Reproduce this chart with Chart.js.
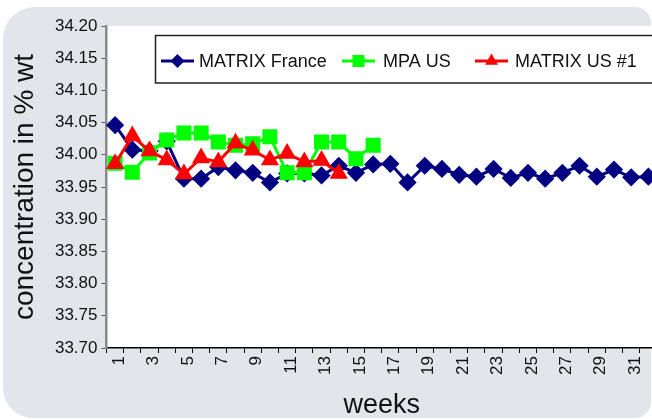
<!DOCTYPE html>
<html>
<head>
<meta charset="utf-8">
<script src="https://cdn.jsdelivr.net/npm/chart.js@4/dist/chart.umd.min.js"></script>
<style>
  html, body { margin: 0; padding: 0; width: 652px; height: 419px; overflow: hidden; background: #ffffff; }
  #panel { position: absolute; left: 3px; top: 7px; width: 648px; height: 411px; background: #e2e6ea; border-radius: 32px 16px 16px 30px; }
  #wrap { position: absolute; left: 0; top: 0; width: 680px; height: 419px; }
</style>
</head>
<body>
<div id="panel"></div>
<div id="wrap"><canvas id="c" width="680" height="419"></canvas></div>
<script>
// ---- data ----
const weeks = ['1','2','3','4','5','6','7','8','9','10','11','12','13','14','15','16',
               '17','18','19','20','21','22','23','24','25','26','27','28','29','30','31','32'];
const matrixFrance = [34.046, 34.008, 34.006, 34.021, 33.963, 33.963, 33.981, 33.976, 33.972, 33.957,
                      33.971, 33.971, 33.968, 33.983, 33.972, 33.985, 33.986, 33.957, 33.983, 33.978,
                      33.969, 33.966, 33.978, 33.964, 33.972, 33.963, 33.972, 33.983, 33.966, 33.977,
                      33.965, 33.966];
const mpaUS = [33.987, 33.973, 34.003, 34.023, 34.034, 34.034, 34.020, 34.015, 34.017, 34.028,
               33.972, 33.972, 34.020, 34.020, 33.994, 34.015];
const matrixUS1 = [33.986, 34.029, 34.006, 33.992, 33.970, 33.995, 33.989, 34.018, 34.007, 33.992,
                   34.002, 33.989, 33.991, 33.971];
const seriesNames = ['MATRIX France', 'MPA US', 'MATRIX US #1'];
const yMin = 33.70, yMax = 34.20, yStep = 0.05;
const xTitle = 'weeks';
const yTitle = 'concentration in % wt';

const FONT = "'Liberation Sans', Arial, Helvetica, sans-serif";

const plotBg = {
  id: 'plotBg',
  beforeDraw(chart) {
    const { ctx, chartArea: a } = chart;
    ctx.save();
    ctx.fillStyle = '#ffffff';
    ctx.fillRect(a.left, a.top, a.right - a.left, a.bottom - a.top);
    ctx.restore();
  }
};

function drawMarker(ctx, style, x, y, color) {
  ctx.save();
  ctx.fillStyle = color;
  ctx.beginPath();
  if (style === 'rectRot') {
    const r = 7;
    ctx.moveTo(x, y - r); ctx.lineTo(x + r, y); ctx.lineTo(x, y + r); ctx.lineTo(x - r, y);
  } else if (style === 'rect') {
    const s = 6;
    ctx.rect(x - s, y - s, 2 * s, 2 * s);
  } else {
    const r = 7.5;
    ctx.moveTo(x, y - r);
    ctx.lineTo(x + r * Math.sin(2 * Math.PI / 3), y - r * Math.cos(2 * Math.PI / 3));
    ctx.lineTo(x + r * Math.sin(4 * Math.PI / 3), y - r * Math.cos(4 * Math.PI / 3));
  }
  ctx.closePath();
  ctx.fill();
  ctx.restore();
}

const boxLegend = {
  id: 'boxLegend',
  afterDraw(chart) {
    const ctx = chart.ctx;
    ctx.save();
    ctx.fillStyle = '#ffffff';
    ctx.fillRect(155, 35, 560, 48);
    ctx.strokeStyle = '#222222';
    ctx.lineWidth = 1.5;
    ctx.strokeRect(155.5, 35.5, 560, 47.5);
    const items = [
      { ds: 0, x0: 161, x1: 194, tx: 199 },
      { ds: 1, x0: 342, x1: 375, tx: 383 },
      { ds: 2, x0: 475, x1: 508, tx: 515 }
    ];
    const y = 61;
    ctx.font = '18px ' + FONT;
    ctx.textBaseline = 'middle';
    ctx.textAlign = 'left';
    items.forEach(it => {
      const d = chart.data.datasets[it.ds];
      ctx.strokeStyle = d.borderColor;
      ctx.lineWidth = 3;
      ctx.beginPath(); ctx.moveTo(it.x0, y); ctx.lineTo(it.x1, y); ctx.stroke();
      drawMarker(ctx, d.pointStyle, (it.x0 + it.x1) / 2, y, d.pointBackgroundColor);
      ctx.fillStyle = '#111111';
      ctx.fillText(d.label, it.tx, y + 1);
    });
    ctx.restore();
  }
};

new Chart(document.getElementById('c'), {
  type: 'line',
  data: {
    labels: weeks,
    datasets: [
      { label: seriesNames[0], data: matrixFrance, borderColor: '#000080', pointBackgroundColor: '#000080',
        pointBorderColor: '#000080', pointStyle: 'rectRot', pointRadius: 7, borderWidth: 3, order: 3 },
      { label: seriesNames[1], data: mpaUS, borderColor: '#00ff00', pointBackgroundColor: '#00ff00',
        pointBorderColor: '#00ff00', pointStyle: 'rect', pointRadius: 8.5, borderWidth: 3, order: 2 },
      { label: seriesNames[2], data: matrixUS1, borderColor: '#ff0000', pointBackgroundColor: '#ff0000',
        pointBorderColor: '#ff0000', pointStyle: 'triangle', pointRadius: 7.5, borderWidth: 3, order: 1 }
    ]
  },
  options: {
    responsive: false,
    animation: false,
    devicePixelRatio: 1,
    layout: { padding: { left: 0, right: 23, top: 26, bottom: 0 } },
    elements: { line: { tension: 0 }, point: { borderWidth: 1, hoverRadius: 6 } },
    plugins: { legend: { display: false }, tooltip: { enabled: false } },
    scales: {
      x: {
        type: 'category',
        offset: true,
        grid: { offset: true, drawOnChartArea: false, drawTicks: true, tickLength: 5, color: '#000000', lineWidth: 1 },
        border: { display: true, color: '#000000', width: 1.5 },
        ticks: {
          autoSkip: false, minRotation: 90, maxRotation: 90, padding: 3, labelOffset: 4,
          color: '#111111', font: { family: FONT, size: 17 },
          callback: function (v, i) { return i % 2 === 0 ? this.getLabelForValue(v) : ''; }
        },
        title: { display: true, text: xTitle, color: '#111111', font: { family: FONT, size: 27, lineHeight: 1 }, padding: { top: 0, bottom: 0 } },
        afterFit(scale) { scale.height = 71; }
      },
      y: {
        min: yMin, max: yMax,
        grid: { drawOnChartArea: false, drawTicks: true, tickLength: 5, color: '#555555', lineWidth: 1 },
        border: { display: true, color: '#8a8a8a', width: 2.5 },
        ticks: {
          stepSize: yStep, padding: 4, color: '#111111', font: { family: FONT, size: 17 },
          callback: v => Number(v).toFixed(2)
        },
        title: { display: true, text: yTitle, color: '#111111', font: { family: FONT, size: 28, lineHeight: 1 }, padding: { top: 11, bottom: 0 } },
        afterFit(scale) { scale.width = 106.5; }
      }
    }
  },
  plugins: [plotBg, boxLegend]
});
</script>
</body>
</html>
